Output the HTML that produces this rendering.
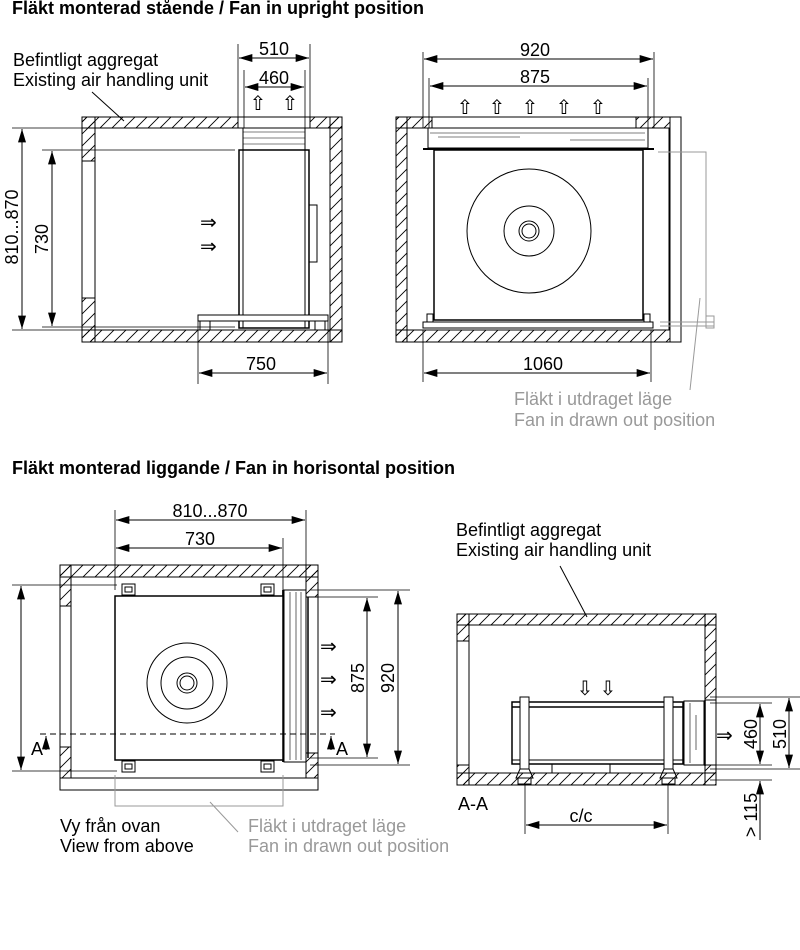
<!DOCTYPE html>
<html><head><meta charset="utf-8"><style>
html,body{margin:0;padding:0;background:#fff;}
svg{display:block;}
text{font-family:"Liberation Sans",sans-serif;}
.ar{font-family:"DejaVu Sans",sans-serif;font-size:20px;}
</style></head><body>
<svg width="800" height="950" viewBox="0 0 800 950" xmlns="http://www.w3.org/2000/svg">
<defs>
<pattern id="h" patternUnits="userSpaceOnUse" width="12" height="12">
<path d="M-3,15 L15,-3 M-3,3 L3,-3 M9,15 L15,9" stroke="#000" stroke-width="0.9"/>
</pattern>
<marker id="a" viewBox="0 0 10 6" refX="10" refY="3" markerWidth="14" markerHeight="8" markerUnits="userSpaceOnUse" orient="auto-start-reverse">
<path d="M0,0 L10,3 L0,6 z" fill="#000"/>
</marker>
</defs>
<g fill="none" stroke="#000" stroke-width="1">

<!-- ===== TOP LEFT ===== -->
<text x="12" y="14" font-size="18" font-weight="bold" fill="#000" stroke="none">Fläkt monterad stående / Fan in upright position</text>
<text x="13" y="66" font-size="18" fill="#000" stroke="none">Befintligt aggregat</text>
<text x="13" y="86" font-size="18" fill="#000" stroke="none">Existing air handling unit</text>
<line x1="92" y1="92" x2="124" y2="121"/>
<rect x="82" y="117" width="156" height="11" fill="url(#h)"/>
<rect x="310" y="117" width="32" height="11" fill="url(#h)"/>
<rect x="82" y="330" width="260" height="12" fill="url(#h)"/>
<rect x="330" y="117" width="12" height="225" fill="url(#h)"/>
<rect x="82" y="117" width="13" height="44" fill="url(#h)"/>
<rect x="82" y="298" width="13" height="44" fill="url(#h)"/>
<line x1="82" y1="161" x2="82" y2="298"/>
<line x1="95" y1="161" x2="95" y2="298"/>
<rect x="82" y="117" width="260" height="225"/>
<rect x="95" y="128" width="235" height="202"/>
<rect x="243" y="128" width="62" height="22" fill="#fff"/>
<path d="M243,132 L305,132 M243,138 L305,138 M243,144 L305,144" stroke-width="0.6"/>
<rect x="239" y="150" width="70" height="178" fill="#fff" stroke-width="1.5"/>
<line x1="243" y1="150" x2="243" y2="328"/>
<line x1="305" y1="150" x2="305" y2="328"/>
<rect x="309" y="205" width="8" height="57"/>
<rect x="198" y="315" width="130" height="6" fill="#fff"/>
<rect x="200" y="321" width="10" height="9"/>
<rect x="315" y="321" width="10" height="9"/>
<text x="200" y="229" class="ar" fill="#000" stroke="none">⇒</text>
<text x="200" y="253" class="ar" fill="#000" stroke="none">⇒</text>
<text x="258" y="110" class="ar" text-anchor="middle" fill="#000" stroke="none">⇧</text>
<text x="290" y="110" class="ar" text-anchor="middle" fill="#000" stroke="none">⇧</text>
<line x1="238" y1="44" x2="238" y2="128" stroke-width="0.8"/>
<line x1="310" y1="44" x2="310" y2="128" stroke-width="0.8"/>
<line x1="244" y1="70" x2="244" y2="128" stroke-width="0.8"/>
<line x1="305" y1="70" x2="305" y2="128" stroke-width="0.8"/>
<line x1="239" y1="58" x2="309" y2="58" marker-start="url(#a)" marker-end="url(#a)"/>
<line x1="245" y1="87" x2="304" y2="87" marker-start="url(#a)" marker-end="url(#a)"/>
<text x="274" y="55" font-size="18" text-anchor="middle" fill="#000" stroke="none">510</text>
<text x="274" y="84" font-size="18" text-anchor="middle" fill="#000" stroke="none">460</text>
<line x1="12" y1="128" x2="95" y2="128" stroke-width="0.8"/>
<line x1="12" y1="330" x2="95" y2="330" stroke-width="0.8"/>
<line x1="42" y1="150" x2="235" y2="150" stroke-width="0.8"/>
<line x1="42" y1="327" x2="235" y2="327" stroke-width="0.8"/>
<line x1="22" y1="129" x2="22" y2="329" marker-start="url(#a)" marker-end="url(#a)"/>
<line x1="52" y1="151" x2="52" y2="326" marker-start="url(#a)" marker-end="url(#a)"/>
<text transform="translate(18,227) rotate(-90)" font-size="18" text-anchor="middle" fill="#000" stroke="none">810...870</text>
<text transform="translate(48,239) rotate(-90)" font-size="18" text-anchor="middle" fill="#000" stroke="none">730</text>
<line x1="198" y1="318" x2="198" y2="384" stroke-width="0.8"/>
<line x1="328" y1="318" x2="328" y2="384" stroke-width="0.8"/>
<line x1="199" y1="373" x2="327" y2="373" marker-start="url(#a)" marker-end="url(#a)"/>
<text x="261" y="370" font-size="18" text-anchor="middle" fill="#000" stroke="none">750</text>

<!-- ===== TOP RIGHT ===== -->
<rect x="396" y="117" width="36" height="11" fill="url(#h)"/>
<rect x="636" y="117" width="34" height="11" fill="url(#h)"/>
<rect x="396" y="330" width="274" height="12" fill="url(#h)"/>
<rect x="396" y="117" width="11" height="225" fill="url(#h)"/>
<rect x="396" y="117" width="285" height="225"/>
<rect x="407" y="128" width="263" height="202"/>
<line x1="669" y1="128" x2="669" y2="330"/>
<rect x="428" y="128" width="220" height="20" fill="#fff"/>
<path d="M438,137 L520,137 M570,140 L645,140 M430,133 L645,133" stroke-width="0.6"/>
<line x1="423" y1="149" x2="654" y2="149" stroke-width="2"/>
<rect x="434" y="150" width="209" height="170" fill="#fff" stroke-width="1.5"/>
<circle cx="529" cy="231" r="62"/>
<circle cx="529" cy="231" r="25"/>
<circle cx="529" cy="231" r="10"/>
<circle cx="529" cy="231" r="7"/>
<rect x="423" y="322" width="230" height="6" fill="#fff"/>
<rect x="427" y="314" width="6" height="8"/>
<rect x="644" y="314" width="6" height="8"/>
<g stroke="#999">
<polyline points="658,152 706,152 706,318"/>
<line x1="660" y1="322" x2="714" y2="322"/>
<line x1="660" y1="326" x2="714" y2="326"/>
<rect x="706" y="316" width="8" height="12"/>
<line x1="700" y1="298" x2="690" y2="390"/>
</g>
<text x="465" y="114" class="ar" fill="#000" stroke="none" text-anchor="middle">⇧</text>
<text x="497" y="114" class="ar" fill="#000" stroke="none" text-anchor="middle">⇧</text>
<text x="530" y="114" class="ar" fill="#000" stroke="none" text-anchor="middle">⇧</text>
<text x="564" y="114" class="ar" fill="#000" stroke="none" text-anchor="middle">⇧</text>
<text x="598" y="114" class="ar" fill="#000" stroke="none" text-anchor="middle">⇧</text>
<line x1="423" y1="52" x2="423" y2="128" stroke-width="0.8"/>
<line x1="654" y1="52" x2="654" y2="128" stroke-width="0.8"/>
<line x1="429" y1="78" x2="429" y2="128" stroke-width="0.8"/>
<line x1="648" y1="78" x2="648" y2="128" stroke-width="0.8"/>
<line x1="424" y1="59" x2="653" y2="59" marker-start="url(#a)" marker-end="url(#a)"/>
<line x1="430" y1="86" x2="647" y2="86" marker-start="url(#a)" marker-end="url(#a)"/>
<text x="535" y="56" font-size="18" text-anchor="middle" fill="#000" stroke="none">920</text>
<text x="535" y="83" font-size="18" text-anchor="middle" fill="#000" stroke="none">875</text>
<line x1="423" y1="330" x2="423" y2="382" stroke-width="0.8"/>
<line x1="651" y1="330" x2="651" y2="382" stroke-width="0.8"/>
<line x1="424" y1="373" x2="650" y2="373" marker-start="url(#a)" marker-end="url(#a)"/>
<text x="543" y="370" font-size="18" text-anchor="middle" fill="#000" stroke="none">1060</text>
<text x="514" y="405" font-size="18" fill="#999" stroke="none">Fläkt i utdraget läge</text>
<text x="514" y="426" font-size="18" fill="#999" stroke="none">Fan in drawn out position</text>

<!-- ===== BOTTOM LEFT ===== -->
<text x="12" y="474" font-size="18" font-weight="bold" fill="#000" stroke="none">Fläkt monterad liggande / Fan in horisontal position</text>
<rect x="60" y="565" width="258" height="12" fill="url(#h)"/>
<rect x="60" y="565" width="11" height="41" fill="url(#h)"/>
<rect x="60" y="747" width="11" height="31" fill="url(#h)"/>
<rect x="306" y="565" width="12" height="32" fill="url(#h)"/>
<rect x="306" y="753" width="12" height="25" fill="url(#h)"/>
<rect x="60" y="565" width="258" height="225"/>
<rect x="71" y="577" width="235" height="201"/>
<line x1="60" y1="778" x2="318" y2="778"/>
<line x1="308" y1="597" x2="308" y2="758" stroke-width="1.5"/>
<line x1="306" y1="597" x2="318" y2="597"/>
<line x1="306" y1="753" x2="318" y2="753"/>
<rect x="284" y="590" width="22" height="172" fill="#fff"/>
<path d="M290,592 L290,760 M296,592 L296,760 M301,592 L301,760" stroke-width="0.6"/>
<line x1="283" y1="590" x2="283" y2="762" stroke-width="1.8"/>
<rect x="115" y="596" width="168" height="164" fill="#fff" stroke-width="1.5"/>
<rect x="122" y="584" width="13" height="11"/><rect x="125" y="587" width="7" height="5"/>
<rect x="261" y="584" width="13" height="11"/><rect x="264" y="587" width="7" height="5"/>
<rect x="122" y="761" width="13" height="11"/><rect x="125" y="764" width="7" height="5"/>
<rect x="261" y="761" width="13" height="11"/><rect x="264" y="764" width="7" height="5"/>
<circle cx="187" cy="683" r="40"/>
<circle cx="187" cy="683" r="26"/>
<circle cx="187" cy="683" r="10"/>
<circle cx="187" cy="683" r="7"/>
<line x1="40" y1="734" x2="335" y2="734" stroke-dasharray="6,4"/>
<text x="31" y="755" font-size="18" fill="#000" stroke="none">A</text>
<line x1="46" y1="750" x2="46" y2="736" marker-end="url(#a)"/>
<line x1="331" y1="750" x2="331" y2="736" marker-end="url(#a)"/>
<text x="336" y="755" font-size="18" fill="#000" stroke="none">A</text>
<text x="320" y="653" class="ar" fill="#000" stroke="none">⇒</text>
<text x="320" y="686" class="ar" fill="#000" stroke="none">⇒</text>
<text x="320" y="719" class="ar" fill="#000" stroke="none">⇒</text>
<line x1="115" y1="510" x2="115" y2="590" stroke-width="0.8"/>
<line x1="306" y1="510" x2="306" y2="590" stroke-width="0.8"/>
<line x1="283" y1="538" x2="283" y2="590" stroke-width="0.8"/>
<line x1="116" y1="520" x2="305" y2="520" marker-start="url(#a)" marker-end="url(#a)"/>
<line x1="116" y1="548" x2="282" y2="548" marker-start="url(#a)" marker-end="url(#a)"/>
<text x="210" y="517" font-size="18" text-anchor="middle" fill="#000" stroke="none">810...870</text>
<text x="200" y="545" font-size="18" text-anchor="middle" fill="#000" stroke="none">730</text>
<line x1="12" y1="585" x2="117" y2="585" stroke-width="0.8"/>
<line x1="12" y1="771" x2="117" y2="771" stroke-width="0.8"/>
<line x1="21" y1="586" x2="21" y2="770" marker-start="url(#a)" marker-end="url(#a)"/>
<line x1="310" y1="590" x2="410" y2="590" stroke-width="0.8"/>
<line x1="310" y1="597" x2="378" y2="597" stroke-width="0.8"/>
<line x1="310" y1="758" x2="378" y2="758" stroke-width="0.8"/>
<line x1="310" y1="765" x2="410" y2="765" stroke-width="0.8"/>
<line x1="367" y1="598" x2="367" y2="757" marker-start="url(#a)" marker-end="url(#a)"/>
<line x1="398" y1="591" x2="398" y2="764" marker-start="url(#a)" marker-end="url(#a)"/>
<text transform="translate(364,678) rotate(-90)" font-size="18" text-anchor="middle" fill="#000" stroke="none">875</text>
<text transform="translate(394,678) rotate(-90)" font-size="18" text-anchor="middle" fill="#000" stroke="none">920</text>
<g stroke="#999">
<polyline points="115,775 115,806 283,806 283,775"/>
<line x1="210" y1="802" x2="238" y2="832"/>
</g>
<text x="60" y="832" font-size="18" fill="#000" stroke="none">Vy från ovan</text>
<text x="60" y="852" font-size="18" fill="#000" stroke="none">View from above</text>
<text x="248" y="832" font-size="18" fill="#999" stroke="none">Fläkt i utdraget läge</text>
<text x="248" y="852" font-size="18" fill="#999" stroke="none">Fan in drawn out position</text>

<!-- ===== BOTTOM RIGHT ===== -->
<text x="456" y="536" font-size="18" fill="#000" stroke="none">Befintligt aggregat</text>
<text x="456" y="556" font-size="18" fill="#000" stroke="none">Existing air handling unit</text>
<line x1="560" y1="566" x2="587" y2="617"/>
<rect x="457" y="614" width="259" height="11" fill="url(#h)"/>
<rect x="457" y="773" width="259" height="12" fill="url(#h)"/>
<rect x="457" y="614" width="12" height="27" fill="url(#h)"/>
<rect x="457" y="765" width="12" height="20" fill="url(#h)"/>
<rect x="705" y="614" width="11" height="86" fill="url(#h)"/>
<rect x="705" y="765" width="11" height="20" fill="url(#h)"/>
<rect x="457" y="614" width="259" height="171"/>
<rect x="469" y="625" width="236" height="148"/>
<rect x="512" y="702" width="171" height="62" fill="#fff" stroke-width="1.5"/>
<line x1="512" y1="707" x2="683" y2="707" stroke-width="1.5"/>
<line x1="512" y1="760" x2="683" y2="760"/>
<rect x="520" y="697" width="9" height="72" fill="#fff"/>
<rect x="664" y="697" width="9" height="72" fill="#fff"/>
<rect x="552" y="764" width="58" height="9"/>
<path d="M520,769 L516,778 L533,778 L529,769"/><rect x="518" y="778" width="13" height="6"/>
<path d="M664,769 L660,778 L677,778 L673,769"/><rect x="662" y="778" width="13" height="6"/>
<rect x="684" y="701" width="20" height="64" fill="#fff"/>
<path d="M690,703 L690,763 M696,715 L696,750" stroke-width="0.6"/>
<line x1="705" y1="700" x2="705" y2="766" stroke-width="1.5"/>
<text x="585" y="695" class="ar" text-anchor="middle" fill="#000" stroke="none">⇩</text>
<text x="608" y="695" class="ar" text-anchor="middle" fill="#000" stroke="none">⇩</text>
<text x="716" y="742" class="ar" fill="#000" stroke="none">⇒</text>
<line x1="710" y1="697" x2="800" y2="697" stroke-width="0.8"/>
<line x1="710" y1="703" x2="772" y2="703" stroke-width="0.8"/>
<line x1="710" y1="765" x2="772" y2="765" stroke-width="0.8"/>
<line x1="710" y1="769" x2="800" y2="769" stroke-width="0.8"/>
<line x1="710" y1="780" x2="772" y2="780" stroke-width="0.8"/>
<line x1="760" y1="704" x2="760" y2="764" marker-start="url(#a)" marker-end="url(#a)"/>
<line x1="789" y1="698" x2="789" y2="768" marker-start="url(#a)" marker-end="url(#a)"/>
<line x1="760" y1="840" x2="760" y2="781" marker-end="url(#a)"/>
<text transform="translate(757,734) rotate(-90)" font-size="18" text-anchor="middle" fill="#000" stroke="none">460</text>
<text transform="translate(786,734) rotate(-90)" font-size="18" text-anchor="middle" fill="#000" stroke="none">510</text>
<text transform="translate(757,815) rotate(-90)" font-size="18" text-anchor="middle" fill="#000" stroke="none">&gt; 115</text>
<line x1="525" y1="784" x2="525" y2="834" stroke-width="0.8"/>
<line x1="668" y1="784" x2="668" y2="834" stroke-width="0.8"/>
<line x1="526" y1="825" x2="667" y2="825" marker-start="url(#a)" marker-end="url(#a)"/>
<text x="581" y="822" font-size="18" text-anchor="middle" fill="#000" stroke="none">c/c</text>
<text x="458" y="810" font-size="18" fill="#000" stroke="none">A-A</text>
</g>
</svg>
</body></html>
